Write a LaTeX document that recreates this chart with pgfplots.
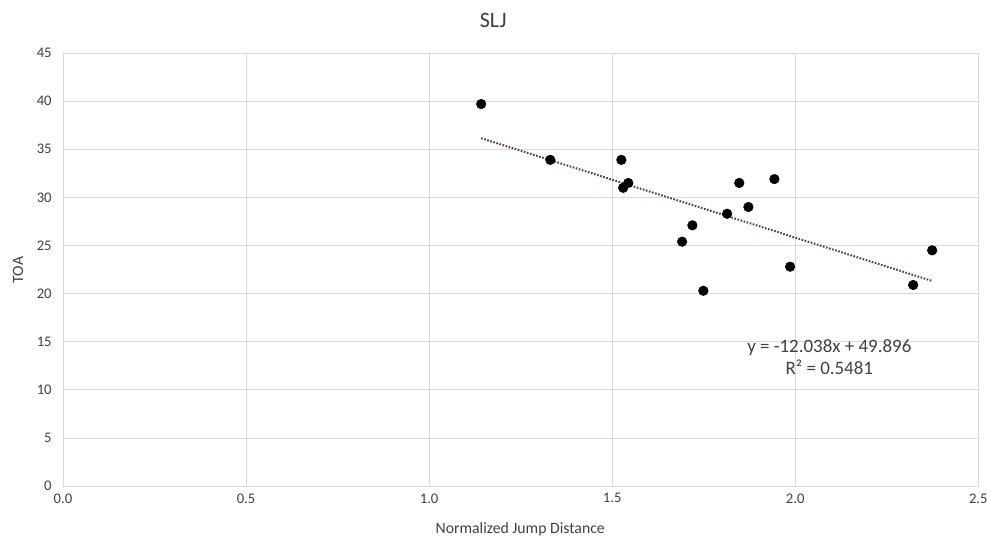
\documentclass[border=0pt]{standalone}
\usepackage{fontspec}
\setmainfont{Carlito}
\usepackage{pgfplots}
\pgfplotsset{compat=1.18}
\definecolor{txt}{HTML}{404040}
\definecolor{gridc}{HTML}{D9D9D9}
\definecolor{trend}{HTML}{5B3B33}

\begin{document}
\begin{tikzpicture}
\useasboundingbox (-47.25pt,-36.75pt) rectangle (692.75pt,364.5pt);
\begin{axis}[scale only axis
            , width=686.25pt
            , height=324.75pt
            , xmin=0, xmax=2.5
            , ymin=0, ymax=45
            , xtick={0,0.5,...,2.5}
            , ytick={0,5,...,45}
            , xticklabel style={/pgf/number format/fixed, /pgf/number format/fixed zerofill, /pgf/number format/precision=1}
            , /pgf/number format/assume math mode=true
            , grid=major
            , grid style={gridc, line width=0.75pt}
            , axis line style={gridc, line width=0.75pt}
            , tick style={draw=none}
            , ticklabel style={font=\fontsize{11}{13}\selectfont, text=txt}
            , xticklabel style={yshift=-2pt}
            , yticklabel style={xshift=-5pt}
            , clip=false
            ]
\addplot[only marks, mark=*, mark size=3.6pt, black] coordinates {
  (1.142, 39.7)
  (1.331, 33.9)
  (1.525, 33.9)
  (1.530, 31.0)
  (1.544, 31.5)
  (1.691, 25.4)
  (1.719, 27.1)
  (1.749, 20.3)
  (1.814, 28.3)
  (1.847, 31.5)
  (1.872, 29.0)
  (1.943, 31.9)
  (1.986, 22.8)
  (2.322, 20.9)
  (2.374, 24.5)
};
% linear trendline y = -12.038x + 49.896
\addplot[trend, line width=1.5pt, dash pattern=on 1.2pt off 1.2pt] coordinates {
  (1.142, 36.149)
  (2.374, 21.318)
};
\node[text=txt, font=\fontsize{14.2}{17}\selectfont, align=center] at (axis cs:2.093,13.4)
  {y = -12.038x + 49.896\\R² = 0.5481};
\node[text=txt, font=\fontsize{16.5}{19}\selectfont] at (axis description cs:0.47,1.076) {SLJ};
\node[text=txt, font=\fontsize{11.8}{14}\selectfont] at (axis description cs:0.4995,-0.099) {Normalized Jump Distance};
\node[text=txt, font=\fontsize{11.8}{14}\selectfont, rotate=90] at (axis description cs:-0.049,0.499) {TOA};
\end{axis}
\end{tikzpicture}
\end{document}
